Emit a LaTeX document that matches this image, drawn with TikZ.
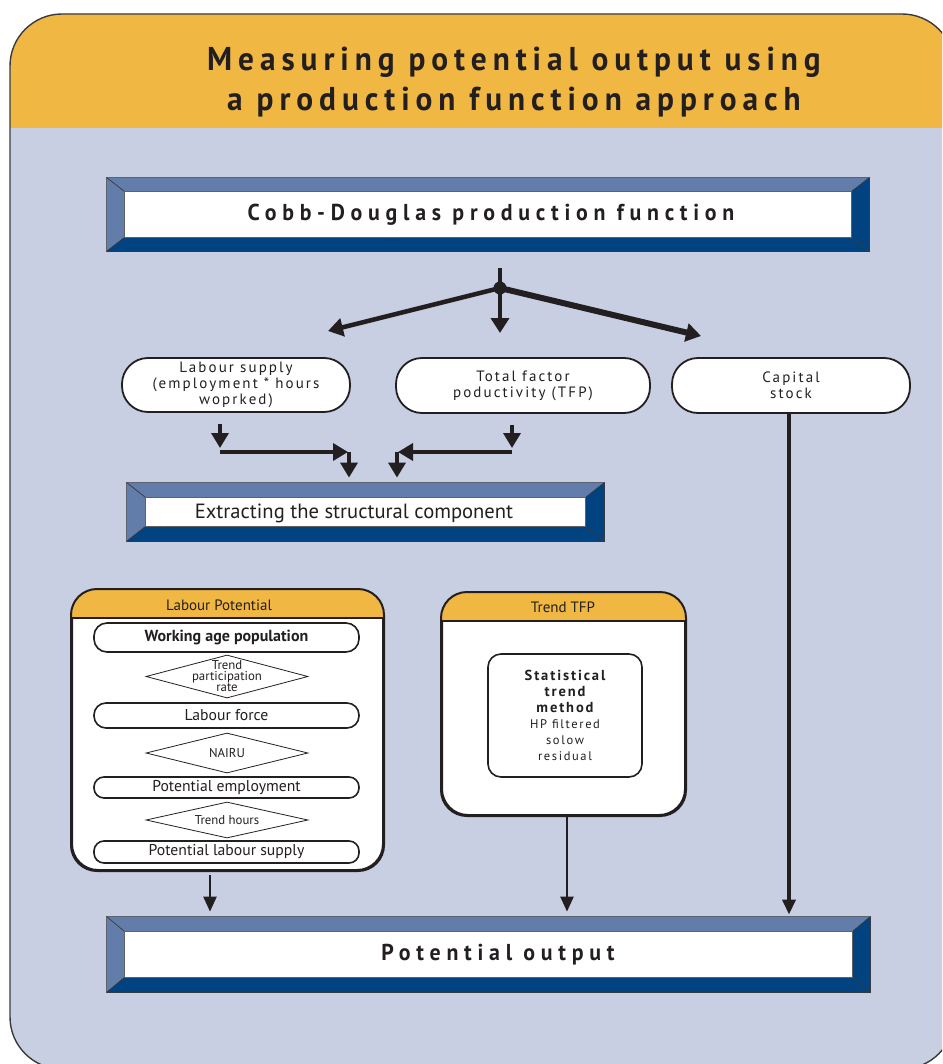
\documentclass[tikz,border=0pt]{standalone}
\usepackage{fontspec}
\setmainfont{PT Sans}
\usetikzlibrary{arrows.meta,calc,shapes.geometric}

\definecolor{hdr}{HTML}{F0B742}
\definecolor{body}{HTML}{C9CFE3}
\definecolor{bvlight}{HTML}{637DAB}
\definecolor{bvdark}{HTML}{004380}
\definecolor{ink}{HTML}{231F20}
\definecolor{edge}{HTML}{3A3A3C}

% bevelled frame around a rectangular node: #1 node, #2 side width, #3 top/bottom width
\newcommand\bevelframe[3]{%
  \filldraw[bvlight,draw=edge,line width=0.6pt]
    (#1.north west) -- (#1.north east) -- ($(#1.north east)+(-#2,#3)$) -- ($(#1.north west)+(#2,#3)$) -- cycle;
  \filldraw[bvlight,draw=edge,line width=0.6pt]
    (#1.north west) -- ($(#1.north west)+(#2,#3)$) -- ($(#1.south west)+(#2,-#3)$) -- (#1.south west) -- cycle;
  \filldraw[bvdark,draw=edge,line width=0.6pt]
    (#1.north east) -- (#1.south east) -- ($(#1.south east)+(-#2,-#3)$) -- ($(#1.north east)+(-#2,#3)$) -- cycle;
  \filldraw[bvdark,draw=edge,line width=0.6pt]
    (#1.south west) -- (#1.south east) -- ($(#1.south east)+(-#2,-#3)$) -- ($(#1.south west)+(#2,-#3)$) -- cycle;
  \draw[edge!80,line width=1pt] ($(#1.north west)+(#2,#3)$) rectangle ($(#1.south east)+(-#2,-#3)$);
}

\tikzset{
  bevelbox/.style={fill=white, draw=edge, line width=0.8pt, inner sep=0pt, text=ink},
  boxtitle/.style={text=ink, inner sep=0pt,
    font=\fontsize{23}{24}\selectfont\bfseries\addfontfeatures{FakeStretch=0.95,LetterSpace=25}},
  pill/.style={draw=ink, fill=white, line width=1.8pt, rounded corners=26pt, inner sep=0pt,
    align=center, text=ink, font=\fontsize{15}{16}\selectfont\addfontfeatures{LetterSpace=14}},
  panel/.style={draw=ink, fill=white, line width=2pt, rounded corners=26pt, inner sep=0pt},
  item/.style={draw=ink, fill=white, line width=1.6pt, inner sep=0pt, minimum width=265pt,
    text=ink, font=\fontsize{15.7}{16}\selectfont},
  dia/.style={diamond, draw=ink, fill=white, line width=0.8pt, inner sep=0pt, minimum width=162pt},
  diatext/.style={align=center, text=ink, inner sep=0pt, font=\fontsize{12.8}{11}\selectfont},
  headtext/.style={text=ink, inner sep=0pt, font=\fontsize{15}{16}\selectfont},
  forkarrow/.style={draw=ink, -{Triangle[length=15pt,width=18pt]}},
  flow/.style={draw=ink, line width=3.5pt, -{Triangle[length=15pt,width=17pt]}},
  thinflow/.style={draw=ink, line width=2.5pt, -{Triangle[length=15pt,width=13pt]}},
}

\begin{document}
\begin{tikzpicture}[x=1pt,y=-1pt]
\useasboundingbox (0,0) rectangle (942,1064);

% outer card with orange heading band
\begin{scope}
  \clip (0,0) rectangle (942,1064);
  \path[fill=body] [rounded corners=52pt] (10,14) rectangle (954,1069);
  \begin{scope}
    \clip[rounded corners=52pt] (10,14) rectangle (954,1069);
    \fill[hdr] (0,0) rectangle (960,128);
  \end{scope}
  \draw[edge,line width=1.4pt] [rounded corners=52pt] (10,14) rectangle (954,1069);
\end{scope}

\node[text=ink, align=center, inner sep=0pt,
      font=\fontsize{33}{40}\selectfont\bfseries\addfontfeatures{FakeStretch=0.95,LetterSpace=18}]
  (title) at (514,82) {Measuring potential output using\\a production function approach};

% main production function box
\node[bevelbox, minimum width=762pt, minimum height=73pt] (cobb) at (488,214.5) {};
\bevelframe{cobb}{18}{14}
\node[boxtitle] (cobbtext) at (491,214.5) {Cobb-Douglas production function};

% split into the three factors
\coordinate (jtop) at (500,268);
\coordinate (j) at (500,288);
\coordinate (aL) at (328,331);
\coordinate (aM) at (500,333);
\coordinate (aR) at (701,336);
\draw[ink,line width=4pt] (jtop) -- (j);
\draw[forkarrow,line width=4.5pt] (j) -- (aL);
\draw[forkarrow,line width=4pt] (j) -- (aM);
\draw[forkarrow,line width=6pt] (j) -- (aR);
\fill[ink] (j) circle (6.5pt);

\node[pill, minimum width=228pt, minimum height=54pt] (ls) at (236,385)
  {Labour supply\\(employment * hours\\woprked)};
\node[pill, minimum width=254pt, minimum height=55pt] (tfpin) at (523,385.5)
  {Total factor\\poductivity (TFP)};
\node[pill, minimum width=238pt, minimum height=55pt] (cap) at (791,385.5)
  {Capital\\stock};

% structural component box
\node[bevelbox, minimum width=477pt, minimum height=58pt] (ext) at (365.5,512) {};
\bevelframe{ext}{19}{15}
\node[text=ink, inner sep=0pt, font=\fontsize{20.6}{21}\selectfont] (exttext) at (354,513)
  {Extracting the structural component};

% elbow connectors into the structural component
\coordinate (lsd) at (220,448);
\coordinate (lsh) at (220,452);
\coordinate (lse) at (348,452);
\coordinate (lsv) at (349,452);
\coordinate (tfd) at (512,448);
\coordinate (tfh) at (512,452);
\coordinate (tfe) at (398,452);
\coordinate (tfv) at (397,452);
\draw[flow, shorten <=11pt] (lsd |- ls.south) -- (lsd);
\draw[flow] (lsh) -- (lse);
\draw[flow, shorten >=5pt] (lsv) -- (lsv |- ext.north);
\draw[flow, shorten <=11pt] (tfd |- tfpin.south) -- (tfd);
\draw[flow] (tfh) -- (tfe);
\draw[flow, shorten >=5pt] (tfv) -- (tfv |- ext.north);

% labour potential panel
\node[panel, minimum width=311pt, minimum height=280pt] (lp) at (227.5,730) {};
\begin{scope}
  \clip[rounded corners=26pt] (lp.north west) rectangle (lp.south east);
  \fill[hdr] (lp.north west) rectangle ($(lp.north east)+(0,29)$);
\end{scope}
\draw[ink,line width=2pt] [rounded corners=26pt] (lp.north west) rectangle (lp.south east);
\draw[ink,line width=2pt] ($(lp.north west)+(0,29)$) -- ($(lp.north east)+(0,29)$);
\node[headtext] (lphead) at (219,605.5) {Labour Potential};

\node[item, minimum height=29pt, rounded corners=13pt, font=\fontsize{16}{16}\selectfont\bfseries]
  (wap) at (226.5,637.5) {Working age population};
\node[dia, minimum height=43pt] (d1) at (227,676.5) {};
\node[diatext] (d1t) at (d1) {Trend\\participation\\rate};
\node[item, minimum height=25pt, rounded corners=12pt] (lf) at (226.5,715.5) {Labour force};
\node[dia, minimum height=40pt] (d2) at (227,753) {};
\node[diatext] (d2t) at (d2) {NAIRU};
\node[item, minimum height=21pt, rounded corners=10pt] (pe) at (226.5,787.5) {Potential employment};
\node[dia, minimum height=36pt] (d3) at (227,820) {};
\node[diatext] (d3t) at (d3) {Trend hours};
\node[item, minimum height=22pt, rounded corners=10pt] (pls) at (226.5,852) {Potential labour supply};

% trend TFP panel
\node[panel, minimum width=243pt, minimum height=222pt] (ttfp) at (563.5,704) {};
\begin{scope}
  \clip[rounded corners=26pt] (ttfp.north west) rectangle (ttfp.south east);
  \fill[hdr] (ttfp.north west) rectangle ($(ttfp.north east)+(0,29)$);
\end{scope}
\draw[ink,line width=2pt] [rounded corners=26pt] (ttfp.north west) rectangle (ttfp.south east);
\draw[ink,line width=2pt] ($(ttfp.north west)+(0,29)$) -- ($(ttfp.north east)+(0,29)$);
\node[headtext] (ttfphead) at (563,607) {Trend TFP};

\node[draw=ink, fill=white, line width=1.6pt, rounded corners=13pt, minimum width=154pt,
      minimum height=123pt, inner sep=0pt, align=center, text=ink,
      font=\fontsize{12.5}{16}\selectfont\addfontfeatures{LetterSpace=13}]
  (stm) at (565,715.5)
  {\fontsize{14.5}{16}\selectfont\bfseries Statistical\\
   \fontsize{14.5}{16}\selectfont\bfseries trend\\
   \fontsize{14.5}{16}\selectfont\bfseries method\\
   HP filtered\\solow\\residual};

% potential output box
\node[bevelbox, minimum width=763pt, minimum height=75pt] (pout) at (488.5,954.5) {};
\bevelframe{pout}{18}{15}
\node[boxtitle] (pouttext) at (498,954.5) {Potential output};

% feeds into potential output
\coordinate (lpo) at (210,875);
\draw[thinflow, shorten >=5pt] (lpo) -- (lpo |- pout.north);
\coordinate (tfo) at (567,815);
\draw[thinflow, shorten >=5pt] (tfo) -- (tfo |- pout.north);
\coordinate (cpo) at (789,413);
\draw[thinflow, line width=3.5pt, shorten >=2pt] (cpo) -- (cpo |- pout.north);
\end{tikzpicture}
\end{document}
